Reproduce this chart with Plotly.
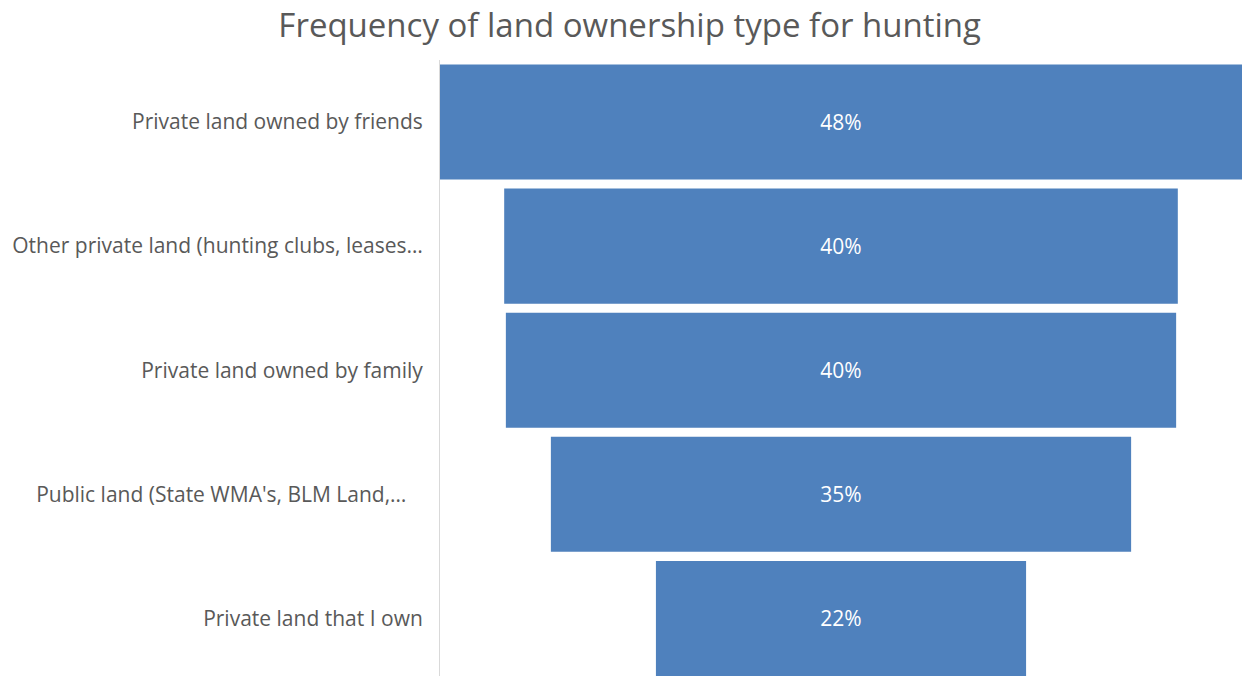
import plotly.graph_objects as go

categories = [
    "Private land owned by friends",
    "Other private land (hunting clubs, leases…",
    "Private land owned by family",
    "Public land (State WMA's, BLM Land,…\u00a0\u00a0\u00a0",
    "Private land that I own",
]
values = [0.481, 0.404, 0.402, 0.348, 0.222]

title_text = "Frequency of land ownership type for hunting"

fig = go.Figure(go.Funnel(
    y=categories,
    x=values,
    orientation="h",
    texttemplate="%{x:.0%}",
    textposition="inside",
    insidetextanchor="middle",
    textfont=dict(color="white", size=21, family="Open Sans"),
    marker=dict(color="#4F81BD", line=dict(width=0)),
    connector=dict(visible=False),
    hoverinfo="skip",
))

half = max(values) / 2
fig.update_layout(
    width=1242, height=676,
    margin=dict(l=440, r=0, t=60, b=0),
    paper_bgcolor="white", plot_bgcolor="white",
    funnelgap=0.073,
    showlegend=False,
    title=dict(text=title_text, x=0.507, xanchor="center", y=0.963, yanchor="middle",
               font=dict(family="Open Sans", size=33, color="#595959")),
    font=dict(family="Open Sans", color="#595959"),
    uniformtext=dict(minsize=8, mode="show"),
)
fig.update_xaxes(range=[-half, half], visible=False, showgrid=False, zeroline=False)
fig.update_yaxes(range=[4.464, -0.5], autorange=False, showline=True, linecolor="#d9d9d9", linewidth=1,
                 showgrid=False, ticks="", ticklabelstandoff=12,
                 tickfont=dict(family="Open Sans", size=21, color="#595959"))

fig.write_html("out.html")
